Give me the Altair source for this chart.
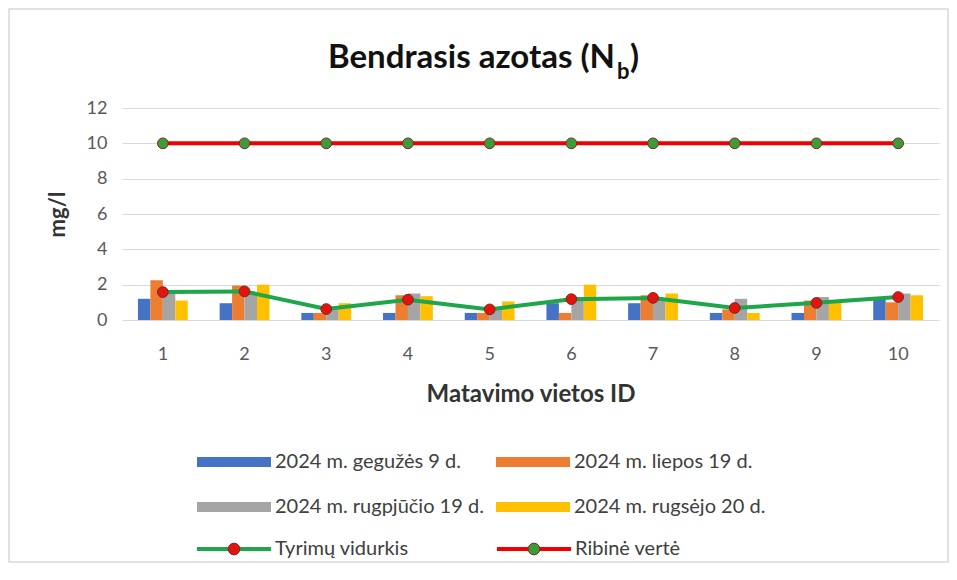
import altair as alt
import pandas as pd

ids = [1, 2, 3, 4, 5, 6, 7, 8, 9, 10]
series_names = ["2024 m. gegužės 9 d.", "2024 m. liepos 19 d.",
                "2024 m. rugpjūčio 19 d.", "2024 m. rugsėjo 20 d."]
series_colors = ["#4472C4", "#ED7D31", "#A5A5A5", "#FFC000"]
geguzes = [1.2, 0.95, 0.4, 0.4, 0.4, 0.95, 0.95, 0.4, 0.4, 1.3]
liepos = [2.25, 1.95, 0.4, 1.4, 0.4, 0.4, 1.4, 0.6, 1.1, 1.0]
rugpjucio = [1.7, 1.6, 0.75, 1.5, 0.6, 1.3, 1.2, 1.2, 1.3, 1.5]
rugsejo = [1.1, 2.0, 0.95, 1.35, 1.05, 2.0, 1.5, 0.4, 1.1, 1.4]
vidurkis = [1.58, 1.62, 0.62, 1.15, 0.6, 1.18, 1.25, 0.68, 0.97, 1.3]
ribine = [10, 10, 10, 10, 10, 10, 10, 10, 10, 10]
mean_label = "Tyrimų vidurkis"
ref_label = "Ribinė vertė"
y_ticks = [0, 2, 4, 6, 8, 10, 12]

rows = []
for name, vals in zip(series_names, [geguzes, liepos, rugpjucio, rugsejo]):
    for i, v in zip(ids, vals):
        rows.append({"id": i, "series": name, "value": v})
bars_df = pd.DataFrame(rows)
mean_df = pd.DataFrame({"id": ids, "value": vidurkis, "label": mean_label})
ref_df = pd.DataFrame({"id": ids, "value": ribine, "label": ref_label})
one = pd.DataFrame({"k": [0]})

# legend order is column-major in the grid, so list entries column by column
legend_order = [series_names[0], series_names[2], series_names[1], series_names[3]]
legend_colors = [series_colors[0], series_colors[2], series_colors[1], series_colors[3]]

FONT = "Lato"
rect_path = "M-1.85,-0.25H1.85V0.25H-1.85Z"
line_path = "M-2.06,0H2.06"
circ_path = "M-0.3,0A0.3,0.3 0 1,0 0.3,0A0.3,0.3 0 1,0 -0.3,0Z"

xaxis = alt.Axis(labelAngle=0, domain=False, ticks=False, grid=False,
                 labelPadding=25, titlePadding=19)
yaxis = alt.Axis(values=y_ticks, domain=False, ticks=False, grid=True,
                 labelPadding=15, titlePadding=17)
xscale = alt.Scale(paddingInner=0.39, paddingOuter=0.195)
yscale = alt.Scale(domain=[0, 12])


def xenc():
    return alt.X("id:O", title="Matavimo vietos ID", scale=xscale, axis=xaxis)


def yenc():
    return alt.Y("value:Q", title="mg/l", scale=yscale, axis=yaxis)


common_leg = dict(orient="none", title=None, labelFont=FONT, labelFontSize=20,
                  labelColor="#404040", labelLimit=500, symbolOffset=17,
                  labelOffset=21, rowPadding=15)

border = alt.Chart(one).mark_rect(fill=None, stroke="#d9d9d9", strokeWidth=1.5).encode(
    x=alt.value(-113), x2=alt.value(826), y=alt.value(-99), y2=alt.value(454))

bars = alt.Chart(bars_df).mark_bar().encode(
    x=xenc(),
    xOffset=alt.XOffset("series:N", scale=alt.Scale(domain=series_names, paddingInner=0, paddingOuter=0)),
    y=yenc(),
    color=alt.Color("series:N", scale=alt.Scale(domain=legend_order, range=legend_colors),
                    legend=alt.Legend(legendX=75, legendY=334, columns=2, columnPadding=12,
                                      symbolType=rect_path, symbolSize=1600,
                                      symbolStrokeWidth=0, **common_leg)),
)

mean_line = alt.Chart(mean_df).mark_line(strokeWidth=4).encode(
    x=xenc(), y=yenc(),
    stroke=alt.Stroke("label:N", scale=alt.Scale(domain=[mean_label], range=["#1DA64A"]),
                      legend=alt.Legend(legendX=75, legendY=421, symbolType=line_path,
                                        symbolSize=1296, symbolStrokeWidth=4, **common_leg)),
)
mean_pts = alt.Chart(mean_df).mark_circle(size=115, opacity=1, stroke="#7a2a1e", strokeWidth=1).encode(
    x=xenc(), y=yenc(),
    fill=alt.Fill("label:N", scale=alt.Scale(domain=[mean_label], range=["#E3140F"]),
                  legend=alt.Legend(legendX=75, legendY=421, symbolType=circ_path,
                                    symbolSize=1521, symbolStrokeWidth=1,
                                    symbolStrokeColor="#7a2a1e", labelOpacity=0, **common_leg)),
)
ref_line = alt.Chart(ref_df).mark_line(strokeWidth=4).encode(
    x=xenc(), y=yenc(),
    stroke=alt.Stroke("label:N", scale=alt.Scale(domain=[ref_label], range=["#F00000"]),
                      legend=alt.Legend(legendX=375, legendY=421, symbolType=line_path,
                                        symbolSize=1296, symbolStrokeWidth=4, **common_leg)),
)
ref_pts = alt.Chart(ref_df).mark_circle(size=115, opacity=1, stroke="#7a2a1e", strokeWidth=1).encode(
    x=xenc(), y=yenc(),
    fill=alt.Fill("label:N", scale=alt.Scale(domain=[ref_label], range=["#3E9B3A"]),
                  legend=alt.Legend(legendX=375, legendY=421, symbolType=circ_path,
                                    symbolSize=1521, symbolStrokeWidth=1,
                                    symbolStrokeColor="#7a2a1e", labelOpacity=0, **common_leg)),
)

t_main = alt.Chart(one).mark_text(align="right", baseline="alphabetic", font=FONT,
                                  fontWeight="bold", fontSize=33, color="#111111").encode(
    x=alt.value(493), y=alt.value(-40), text=alt.value("Bendrasis azotas (N"))
t_sub = alt.Chart(one).mark_text(align="left", baseline="alphabetic", font=FONT,
                                 fontWeight="bold", fontSize=22, color="#111111").encode(
    x=alt.value(495), y=alt.value(-29), text=alt.value("b"))
t_par = alt.Chart(one).mark_text(align="left", baseline="alphabetic", font=FONT,
                                 fontWeight="bold", fontSize=33, color="#111111").encode(
    x=alt.value(508), y=alt.value(-40), text=alt.value(")"))

chart = alt.layer(border, bars, mean_line, mean_pts, ref_line, ref_pts, t_main, t_sub, t_par).resolve_scale(
    stroke="independent", fill="independent"
).properties(
    width=817, height=212,
    padding={"left": 114, "top": 100, "right": 10, "bottom": 244},
    autosize=alt.AutoSizeParams(type="none"),
).configure_view(stroke=None).configure_axis(
    labelFont=FONT, labelFontSize=18, labelColor="#595959",
    titleFont=FONT, titleFontWeight="bold", titleColor="#333333",
    gridColor="#d9d9d9", gridWidth=1,
).configure_axisX(titleFontSize=24).configure_axisY(titleFontSize=22)

chart.save("out.html", embed_options={"renderer": "svg", "actions": False})
